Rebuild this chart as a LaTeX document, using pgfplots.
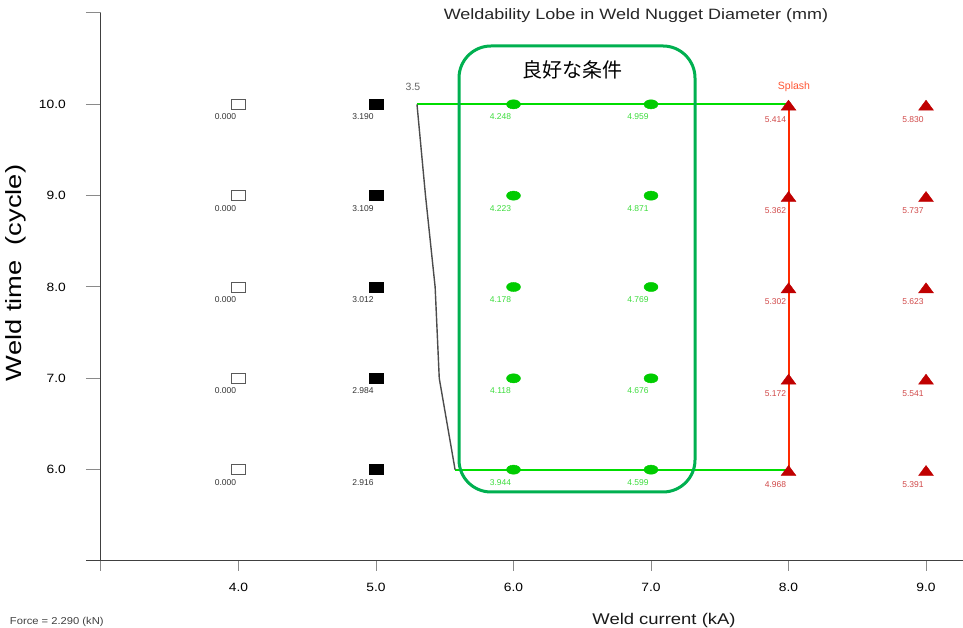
\documentclass[border=0pt]{standalone}
\usepackage{pgfplots}
\pgfplotsset{compat=1.18}
\usepackage{fontspec}
\setmainfont{Liberation Sans}
\newfontfamily\cjk{Noto Sans CJK JP}
\definecolor{gmark}{HTML}{00CC00}
\definecolor{glab}{HTML}{3CDC3C}
\definecolor{gline}{HTML}{00DD00}
\definecolor{gbox}{HTML}{00B050}
\definecolor{rmark}{HTML}{C00000}
\definecolor{rlab}{HTML}{D04848}
\definecolor{rline}{HTML}{FF2A00}
\definecolor{klab}{HTML}{333333}
\definecolor{axgray}{HTML}{404040}
\definecolor{tkgray}{HTML}{8A8A8A}
\begin{document}
\begin{tikzpicture}
\begin{axis}[
  at={(0pt,0pt)}, anchor=south west,
  scale only axis, width=862pt, height=548pt,
  xmin=3, xmax=9.269, ymin=5, ymax=11,
  axis x line*=bottom, axis y line*=left,
  axis line style={color=axgray, line width=1pt},
  tick align=outside,
  major tick length=15pt,
  xtick={3,4,5,6,7,8,9},
  xticklabels={,4.0,5.0,6.0,7.0,8.0,9.0},
  ytick={5,6,7,8,9,10,11},
  yticklabels={,6.0,7.0,8.0,9.0,10.0,},
  xtick style={color=tkgray, line width=1pt, /pgfplots/major tick length=10pt},
  ytick style={color=tkgray, line width=1pt},
  /pgf/number format/assume math mode=true,
  ticklabel style={font=\fontsize{12}{14}\selectfont, color=black, xscale=1.15},
  xticklabel style={yshift=-4pt},
  yticklabel style={xshift=-14pt},
  clip=false,
]
% lobe boundary lines
\addplot[gline, line width=2pt] coordinates {(5.298,10) (8,10)};
\addplot[gline, line width=2pt] coordinates {(5.575,6) (8,6)};
\addplot[color=black!70, line width=1.4pt] coordinates {(5.298,10) (5.36,9) (5.43,8) (5.46,7) (5.575,6)};
% 4.0 kA : no nugget
\addplot[only marks, mark=square*, mark size=5pt,
  mark options={xscale=1.4, fill=white, draw=black!65, line width=0.8pt},
  nodes near coords, point meta=explicit symbolic,
  nodes near coords style={anchor=center, xshift=-13pt, yshift=-12.5pt,
    font=\fontsize{8.5}{10}\selectfont, color=klab}]
  table[meta=lab] {
x y lab
4 10 0.000
4 9 0.000
4 8 0.000
4 7 0.000
4 6 0.000
};
% 5.0 kA
\addplot[only marks, mark=square*, mark size=5pt,
  mark options={xscale=1.4, fill=black, draw=black},
  nodes near coords, point meta=explicit symbolic,
  nodes near coords style={anchor=center, xshift=-13pt, yshift=-12.5pt,
    font=\fontsize{8.5}{10}\selectfont, color=klab}]
  table[meta=lab] {
x y lab
5 10 3.190
5 9 3.109
5 8 3.012
5 7 2.984
5 6 2.916
};
% 6.0 and 7.0 kA
\addplot[only marks, mark=*, mark size=4.6pt,
  mark options={xscale=1.52, fill=gmark, draw=gmark},
  nodes near coords, point meta=explicit symbolic,
  nodes near coords style={anchor=center, xshift=-13pt, yshift=-12.5pt,
    font=\fontsize{8.5}{10}\selectfont, color=glab}]
  table[meta=lab] {
x y lab
6 10 4.248
6 9 4.223
6 8 4.178
6 7 4.118
6 6 3.944
7 10 4.959
7 9 4.871
7 8 4.769
7 7 4.676
7 6 4.599
};
% 8.0 and 9.0 kA : splash
\addplot[only marks, mark=triangle*, mark size=6.7pt,
  mark options={xscale=1.28, yshift=-2.5pt, fill=rmark, draw=rmark},
  nodes near coords, point meta=explicit symbolic,
  nodes near coords style={anchor=center, xshift=-13pt, yshift=-12.5pt,
    font=\fontsize{8.5}{10}\selectfont, color=rlab}]
  table[meta=lab] {
x y lab
8 10 5.414
8 9 5.362
8 8 5.302
8 7 5.172
8 6 4.968
9 10 5.830
9 9 5.737
9 8 5.623
9 7 5.541
9 6 5.391
};
\addplot[rline, line width=2pt] coordinates {(8,6) (8,10)};
\end{axis}
% x axis line runs on past the y axis, as in the reference
\draw[axgray, line width=1pt] (-15pt,0pt) -- (0pt,0pt);
% annotations (pt coordinates relative to the axis' lower left corner)
\draw[gbox, line width=3pt, rounded corners=32pt] (358pt,69pt) rectangle (594pt,515pt);
\node[font=\cjk\fontsize{20}{22}\selectfont] at (471pt,491pt) {良好な条件};
\node[font=\fontsize{10.5}{12}\selectfont, color=black!60] at (312pt,474pt) {3.5};
\node[font=\fontsize{10.5}{12}\selectfont, color=rline!80] at (693pt,474pt) {Splash};
\node[font=\fontsize{15}{17}\selectfont, color=black!85, xscale=1.2] at (535pt,545pt) {Weldability Lobe in Weld Nugget Diameter (mm)};
\node[font=\fontsize{15.5}{17}\selectfont, color=black!90, xscale=1.19] at (563pt,-59pt) {Weld current (kA)};
\node[font=\fontsize{10}{12}\selectfont, color=black!75, anchor=west, xscale=1.12] at (-95pt,-61pt) {Force = 2.290 (kN)};
\node[font=\fontsize{22}{24}\selectfont, color=black, rotate=90, xscale=1.24] at (-85pt,288pt) {Weld time\ \ (cycle)};
\pgfresetboundingbox
\path (-101pt,-67pt) rectangle (862pt,561pt);
\end{tikzpicture}
\end{document}
